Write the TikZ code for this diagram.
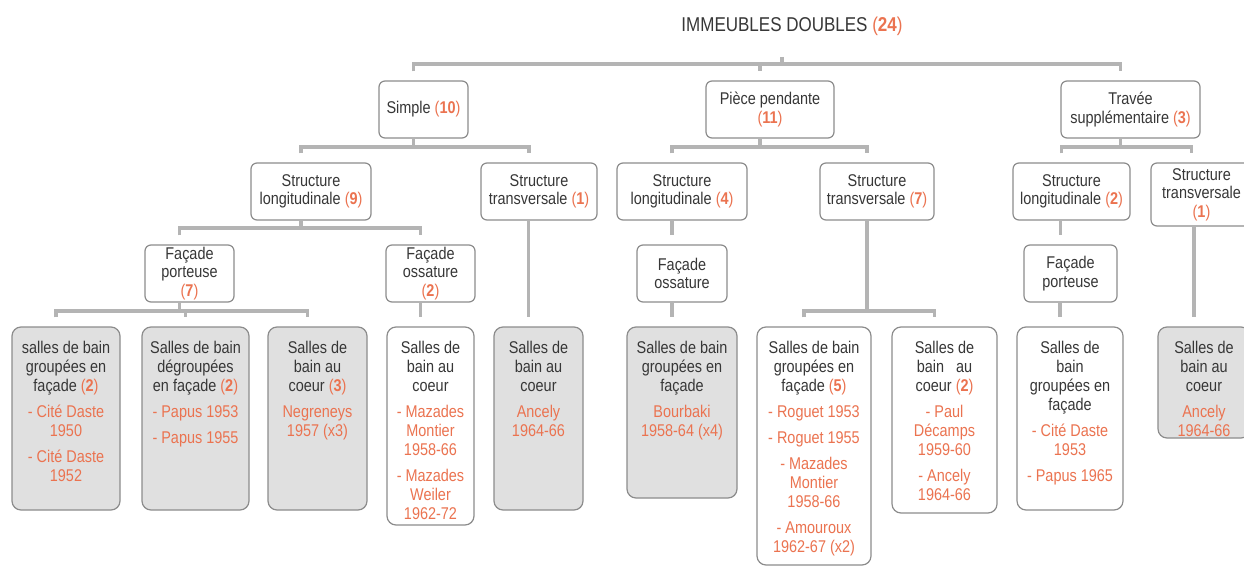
\documentclass[tikz,border=0pt]{standalone}
\usepackage{fontspec}
\setmainfont{Liberation Sans}[FakeStretch=0.85]
\usetikzlibrary{calc}
\definecolor{org}{RGB}{235,115,80}
\definecolor{txt}{RGB}{55,55,55}
\definecolor{conncol}{RGB}{180,180,180}
\definecolor{edgecol}{RGB}{140,140,140}
\definecolor{leaffill}{RGB}{224,224,224}
\newcommand{\nb}[1]{\textcolor{org}{(\textbf{#1})}}
\newcommand{\orn}[1]{\textcolor{org}{#1}}
\begin{document}
\begin{tikzpicture}[x=1pt,y=-1pt,
  conn/.style={draw=conncol, line width=3.3pt},
  lvl/.style={draw=edgecol, line width=1.2pt, rounded corners=6pt, fill=white, align=center, text=txt,
    font=\fontsize{17}{18.5}\selectfont, inner sep=0pt, minimum height=57pt},
  leafbox/.style={draw=edgecol, line width=1.2pt, rounded corners=9pt, inner sep=0pt},
  grbox/.style={leafbox, fill=leaffill},
  whbox/.style={leafbox, fill=white},
  leaftext/.style={anchor=north, align=center, text=txt, font=\fontsize{17}{19}\selectfont, inner sep=0pt}]
\useasboundingbox (0,0) rectangle (1244,567);
\fill[white] (0,0) rectangle (1244,567);

% title
\node[anchor=base, text=txt, font=\fontsize{20}{22}\selectfont, inner sep=0pt] (title) at (792,32) {IMMEUBLES DOUBLES \nb{24}};
\coordinate (tick) at (782,57);

% bracket levels
\coordinate (b0) at (0,64);
\coordinate (b1) at (0,147);
\coordinate (b2) at (0,228);
\coordinate (b3) at (0,311);

% level 1
\node[lvl, minimum width=89pt] (simple) at (423.5,109.5) {Simple \nb{10}};
\node[lvl, minimum width=128pt] (piece) at (770,109.5) {Pièce pendante\\\nb{11}};
\node[lvl, minimum width=139pt] (travee) at (1130.5,109.5) {Travée\\supplémentaire \nb{3}};

% level 2
\node[lvl, minimum width=120pt] (sl9) at (311,191.5) {Structure\\longitudinale \nb{9}};
\node[lvl, minimum width=116pt] (st1) at (539,191.5) {Structure\\transversale \nb{1}};
\node[lvl, minimum width=130pt] (sl4) at (682,191.5) {Structure\\longitudinale \nb{4}};
\node[lvl, minimum width=114pt] (st7) at (877,191.5) {Structure\\transversale \nb{7}};
\node[lvl, minimum width=117pt] (sl2) at (1071.5,191.5) {Structure\\longitudinale \nb{2}};
\node[lvl, minimum width=101pt, minimum height=63pt] (st1b) at (1201.5,194.5) {Structure\\transversale\\\nb{1}};

% level 3
\node[lvl, minimum width=89pt] (fp7) at (189.5,273.5) {Façade\\porteuse\\\nb{7}};
\node[lvl, minimum width=89pt] (fo2) at (430.5,273.5) {Façade\\ossature\\\nb{2}};
\node[lvl, minimum width=90pt] (foP) at (682,273.5) {Façade\\ossature};
\node[lvl, minimum width=93pt] (fpT) at (1070.5,273.5) {Façade\\porteuse};

% leaves: boxes
\node[grbox, minimum width=108pt, minimum height=183pt] (L1) at (66,418.5) {};
\node[grbox, minimum width=107pt, minimum height=183pt] (L2) at (195.5,418.5) {};
\node[grbox, minimum width=99pt, minimum height=183pt] (L3) at (317.5,418.5) {};
\node[whbox, minimum width=87pt, minimum height=198pt] (Mz) at (430.5,426) {};
\node[grbox, minimum width=89pt, minimum height=183pt] (An1) at (538.5,418.5) {};
\node[grbox, minimum width=110pt, minimum height=171pt] (Bo) at (682,412.5) {};
\node[whbox, minimum width=114pt, minimum height=238pt] (Rg) at (814,446) {};
\node[whbox, minimum width=105pt, minimum height=186pt] (Pd) at (944.5,420) {};
\node[whbox, minimum width=106pt, minimum height=183pt] (Tl) at (1070,418.5) {};
\node[grbox, minimum width=92pt, minimum height=111pt] (An2) at (1204,382.5) {};

% leaves: texts
\node[leaftext] (L1t) at (66,341) {salles de bain\\groupées en\\façade \nb{2}\\[7pt]\orn{- Cité Daste}\\\orn{1950}\\[7pt]\orn{- Cité Daste}\\\orn{1952}};
\node[leaftext] (L2t) at (195.5,341) {Salles de bain\\dégroupées\\en façade \nb{2}\\[7pt]\orn{- Papus 1953}\\[7pt]\orn{- Papus 1955}};
\node[leaftext] (L3t) at (317.5,341) {Salles de\\bain au\\coeur \nb{3}\\[7pt]\orn{Negreneys}\\\orn{1957 (x3)}};
\node[leaftext] (Mzt) at (430.5,341) {Salles de\\bain au\\coeur\\[7pt]\orn{- Mazades}\\\orn{Montier}\\\orn{1958-66}\\[7pt]\orn{- Mazades}\\\orn{Weiler}\\\orn{1962-72}};
\node[leaftext] (An1t) at (538.5,341) {Salles de\\bain au\\coeur\\[7pt]\orn{Ancely}\\\orn{1964-66}};
\node[leaftext] (Bot) at (682,341) {Salles de bain\\groupées en\\façade\\[7pt]\orn{Bourbaki}\\\orn{1958-64 (x4)}};
\node[leaftext] (Rgt) at (814,341) {Salles de bain\\groupées en\\façade \nb{5}\\[7pt]\orn{- Roguet 1953}\\[7pt]\orn{- Roguet 1955}\\[7pt]\orn{- Mazades}\\\orn{Montier}\\\orn{1958-66}\\[7pt]\orn{- Amouroux}\\\orn{1962-67 (x2)}};
\node[leaftext] (Pdt) at (944.5,341) {Salles de\\bain~~~au\\coeur \nb{2}\\[7pt]\orn{- Paul}\\\orn{Décamps}\\\orn{1959-60}\\[7pt]\orn{- Ancely}\\\orn{1964-66}};
\node[leaftext] (Tlt) at (1070,341) {Salles de\\bain\\groupées en\\façade\\[7pt]\orn{- Cité Daste}\\\orn{1953}\\[7pt]\orn{- Papus 1965}};
\node[leaftext] (An2t) at (1204,341) {Salles de\\bain au\\coeur\\[7pt]\orn{Ancely}\\\orn{1964-66}};

% connector points (slightly left of centres, as in the original)
\foreach \n in {simple,piece,travee,sl9,st1,sl4,st7,sl2,st1b,fp7,fo2,foP,fpT,L1,L2,L3,Mz,An1,Bo,Rg,Pd,Tl,An2}{
  \coordinate (\n-in) at ($(\n.north)+(-10,-9)$);
  \coordinate (\n-out) at ($(\n.south)+(-10,0)$);
}

% top bracket
\draw[conn] (tick) -- (tick |- b0);
\draw[conn] (simple-in) -- (simple-in |- b0) -- (travee-in |- b0) -- (travee-in);
\draw[conn] (piece-in |- b0) -- (piece-in);

% level 1 -> level 2
\draw[conn] (simple-out) -- (simple-out |- b1);
\draw[conn] (sl9-in) -- (sl9-in |- b1) -- (st1-in |- b1) -- (st1-in);
\draw[conn] (piece-out) -- (piece-out |- b1);
\draw[conn] (sl4-in) -- (sl4-in |- b1) -- (st7-in |- b1) -- (st7-in);
\draw[conn] (travee-out) -- (travee-out |- b1);
\draw[conn] (sl2-in) -- (sl2-in |- b1) -- (st1b-in |- b1) -- (st1b-in);

% level 2 -> level 3 (straight verticals)
\draw[conn] (sl9-out) -- (sl9-out |- b2);
\draw[conn] (fp7-in) -- (fp7-in |- b2) -- (fo2-in |- b2) -- (fo2-in);
\draw[conn] (foP-in |- sl4.south) -- (foP-in);
\draw[conn] (fpT-in |- sl2.south) -- (fpT-in);
\draw[conn] (An1-in |- st1.south) -- (An1-in);
\draw[conn] (An2-in |- st1b.south) -- (An2-in);

% level 3 -> leaves
\draw[conn] (fp7-out) -- (fp7-out |- b3);
\draw[conn] (L1-in) -- (L1-in |- b3) -- (L3-in |- b3) -- (L3-in);
\draw[conn] (L2-in |- b3) -- (L2-in);
\draw[conn] (Mz-in |- fo2.south) -- (Mz-in);
\draw[conn] (Bo-in |- foP.south) -- (Bo-in);
\draw[conn] (Tl-in |- fpT.south) -- (Tl-in);
\draw[conn] (st7-out) -- (st7-out |- b3);
\draw[conn] (Rg-in) -- (Rg-in |- b3) -- (Pd-in |- b3) -- (Pd-in);
\end{tikzpicture}
\end{document}
